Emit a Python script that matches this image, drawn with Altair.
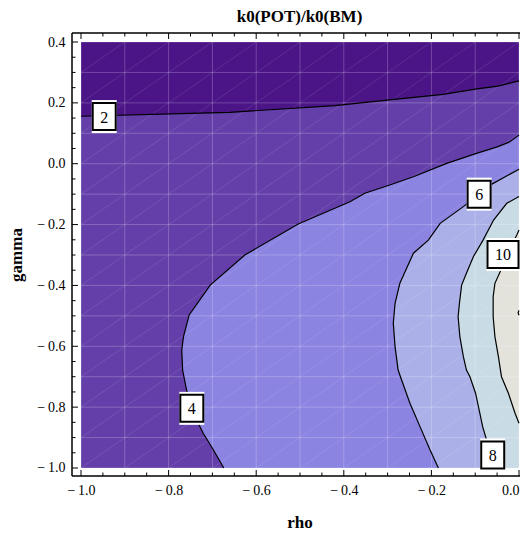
import altair as alt
import pandas as pd

# ---------------- data ----------------
band_colors = ["#4b1487", "#643fa9", "#8b84e1", "#abb1e8", "#c9dce6", "#e3e3dc"]  # <2, 2-4, 4-6, 6-8, 8-10, >10

rho_range = [-1.0, 0.0]
gamma_range = [-1.0, 0.4]

# contour level 2 (region above it is the darkest band)
c2_rho = [-1.0, -0.728, -0.66, -0.42, -0.301, -0.173, -0.096, -0.048, 0.0]
c2_gamma = [0.156, 0.166, 0.169, 0.191, 0.209, 0.228, 0.246, 0.255, 0.272]

# contour level 4
c4_rho = [0.0, -0.021, -0.048, -0.097, -0.165, -0.241, -0.295, -0.352, -0.386, -0.504,
          -0.626, -0.705, -0.753, -0.766, -0.770, -0.768, -0.759, -0.736, -0.721, -0.702, -0.674]
c4_gamma = [0.094, 0.072, 0.056, 0.034, 0.001, -0.043, -0.070, -0.097, -0.125, -0.198,
            -0.300, -0.399, -0.497, -0.568, -0.612, -0.678, -0.744, -0.842, -0.886, -0.930, -1.0]

# contour level 6
c6_rho = [0.0, -0.062, -0.127, -0.180, -0.207, -0.241, -0.272, -0.283, -0.287, -0.283,
          -0.276, -0.268, -0.249, -0.226, -0.203, -0.184]
c6_gamma = [-0.018, -0.067, -0.141, -0.196, -0.251, -0.294, -0.393, -0.459, -0.524, -0.601,
            -0.678, -0.711, -0.787, -0.864, -0.941, -1.0]

# contour level 8
c8_rho = [0.0, -0.028, -0.058, -0.082, -0.104, -0.120, -0.131, -0.136, -0.139, -0.135,
          -0.127, -0.120, -0.112, -0.099, -0.091, -0.083, -0.074, -0.068, -0.064]
c8_gamma = [-0.108, -0.130, -0.185, -0.251, -0.305, -0.360, -0.399, -0.459, -0.503, -0.568,
            -0.634, -0.678, -0.700, -0.755, -0.809, -0.864, -0.908, -0.955, -1.0]

# contour level 10
c10_rho = [0.0, -0.005, -0.025, -0.043, -0.055, -0.059, -0.059, -0.055, -0.047, -0.040,
           -0.024, -0.009, 0.0]
c10_gamma = [-0.218, -0.234, -0.290, -0.355, -0.393, -0.437, -0.503, -0.568, -0.634, -0.700,
             -0.755, -0.820, -0.853]

# tiny contour touching the right edge
c12_rho = [0.0, -0.002, 0.0]
c12_gamma = [-0.482, -0.490, -0.498]

# contour labels
label_text = ["2", "4", "6", "8", "10"]
label_rho = [-0.947, -0.747, -0.091, -0.060, -0.0365]
label_gamma = [0.155, -0.804, -0.100, -0.957, -0.298]

# ticks / grid
x_major = [-1.0, -0.8, -0.6, -0.4, -0.2, 0.0]
x_minor = [-0.95, -0.9, -0.85, -0.75, -0.7, -0.65, -0.55, -0.5, -0.45, -0.35, -0.3, -0.25,
           -0.15, -0.1, -0.05]
y_major = [-1.0, -0.8, -0.6, -0.4, -0.2, 0.0, 0.2, 0.4]
y_minor = [-0.95, -0.9, -0.85, -0.75, -0.7, -0.65, -0.55, -0.5, -0.45, -0.35, -0.3, -0.25,
           -0.15, -0.1, -0.05, 0.05, 0.1, 0.15, 0.25, 0.3, 0.35]
grid_rho = [-1.0, -0.9, -0.8, -0.7, -0.6, -0.5, -0.4, -0.3, -0.2, -0.1, 0.0]
grid_gamma = [-1.0, -0.9, -0.8, -0.7, -0.6, -0.5, -0.4, -0.3, -0.2, -0.1, 0.0, 0.1, 0.2, 0.3, 0.4]
diag_offsets = [-0.9, -0.8, -0.7, -0.6, -0.5, -0.4, -0.3, -0.2, -0.1, 0.0, 0.1, 0.2, 0.3, 0.4,
                0.5, 0.6, 0.7, 0.8, 0.9, 1.0, 1.1, 1.2, 1.3]

chart_title = "k0(POT)/k0(BM)"

# ---------------- layout ----------------
W_VIEW = 448          # visible part of the plot (the frame's right side is cropped as in the reference)
W, H = 455, 443       # full frame size used by the scales
FONT = "Liberation Serif"
xs = alt.Scale(domain=[-1.02055, 0.01826], range=[0, W], nice=False, zero=False)
ys = alt.Scale(domain=[-1.0263, 0.4296], nice=False, zero=False)
minus_expr = "replace(datum.label, '\u2212', '\u2212\u2009')"

x_axis = alt.Axis(values=x_major, format=".1f", labelExpr=minus_expr, title="rho",
                  labelAlign=alt.ExprRef(expr="datum.value === 0 ? 'right' : 'center'"),
                  ticks=False, domain=False, grid=False, labelPadding=7, titlePadding=17)
y_axis = alt.Axis(values=y_major, format=".1f", labelExpr=minus_expr, title="gamma",
                  ticks=False, domain=False, grid=False, labelPadding=7, titlePadding=11)


def X(f):
    return alt.X(f, scale=xs, axis=x_axis)


def Y(f):
    return alt.Y(f, scale=ys, axis=y_axis)


def line_df(r, g):
    return pd.DataFrame({"rho": r, "gamma": g, "i": list(range(len(r))),
                         "edge_x": rho_range[1], "edge_y": gamma_range[1]})


bg = alt.Chart(pd.DataFrame({"x": [rho_range[0]], "x2": [rho_range[1]],
                             "y": [gamma_range[0]], "y2": [gamma_range[1]]})).mark_rect(
    color=band_colors[1]).encode(x=X("x:Q"), x2="x2:Q", y=Y("y:Q"), y2="y2:Q")

top_area = alt.Chart(line_df(c2_rho, c2_gamma)).mark_area(
    color=band_colors[0], opacity=1).encode(
    x=X("rho:Q"), y=Y("gamma:Q"), y2="edge_y:Q")


def h_area(r, g, color):
    return alt.Chart(line_df(r, g)).mark_area(orient="horizontal", color=color, opacity=1).encode(
        y=Y("gamma:Q"), x=X("rho:Q"), x2="edge_x:Q")


a4 = h_area(c4_rho, c4_gamma, band_colors[2])
a6 = h_area(c6_rho, c6_gamma, band_colors[3])
a8 = h_area(c8_rho, c8_gamma, band_colors[4])
a10 = h_area(c10_rho, c10_gamma, band_colors[5])

# grid lines
vgrid = alt.Chart(pd.DataFrame({"rho": grid_rho, "g0": gamma_range[0], "g1": gamma_range[1]})).mark_rule(
    color="white", opacity=0.22, strokeWidth=1).encode(x=X("rho:Q"), y=Y("g0:Q"), y2="g1:Q")
hgrid = alt.Chart(pd.DataFrame({"gamma": grid_gamma, "r0": rho_range[0], "r1": rho_range[1]})).mark_rule(
    color="white", opacity=0.22, strokeWidth=1).encode(y=Y("gamma:Q"), x=X("r0:Q"), x2="r1:Q")

drows = []
for c in diag_offsets:
    r0 = max(rho_range[0], gamma_range[0] - c)
    r1 = min(rho_range[1], gamma_range[1] - c)
    drows.append({"r0": r0, "r1": r1, "g0": r0 + c, "g1": r1 + c})
diag = alt.Chart(pd.DataFrame(drows)).mark_rule(color="white", opacity=0.14, strokeWidth=0.8).encode(
    x=X("r0:Q"), x2="r1:Q", y=Y("g0:Q"), y2="g1:Q")

# contour lines
cl = []
for name, r, g in [("2", c2_rho, c2_gamma), ("4", c4_rho, c4_gamma), ("6", c6_rho, c6_gamma),
                   ("8", c8_rho, c8_gamma), ("10", c10_rho, c10_gamma), ("12", c12_rho, c12_gamma)]:
    d = line_df(r, g)
    d["level"] = name
    cl.append(d)
lines = alt.Chart(pd.concat(cl)).mark_line(color="black", strokeWidth=1.2).encode(
    x=X("rho:Q"), y=Y("gamma:Q"), detail="level:N", order="i:Q")

# frame and ticks
one = pd.DataFrame({"a": [0]})
frame_left = alt.Chart(one).mark_rule(color="black", strokeWidth=1.5).encode(
    x=alt.value(0), y=alt.value(0), y2=alt.value(H))
frame_top = alt.Chart(one).mark_rule(color="black", strokeWidth=1.5).encode(
    x=alt.value(0), x2=alt.value(W), y=alt.value(0))
frame_bottom = alt.Chart(one).mark_rule(color="black", strokeWidth=1.5).encode(
    x=alt.value(0), x2=alt.value(W), y=alt.value(H))

tick_layers = []
for vals, ln in [(x_major, 6), (x_minor, 3.5)]:
    d = pd.DataFrame({"v": vals})
    tick_layers.append(alt.Chart(d).mark_rule(color="black", strokeWidth=1).encode(
        x=X("v:Q"), y=alt.value(H), y2=alt.value(H - ln)))
    tick_layers.append(alt.Chart(d).mark_rule(color="black", strokeWidth=1).encode(
        x=X("v:Q"), y=alt.value(0), y2=alt.value(ln)))
for vals, ln in [(y_major, 6), (y_minor, 3.5)]:
    d = pd.DataFrame({"v": vals})
    tick_layers.append(alt.Chart(d).mark_rule(color="black", strokeWidth=1).encode(
        y=Y("v:Q"), x=alt.value(0), x2=alt.value(ln)))
    tick_layers.append(alt.Chart(d).mark_rule(color="black", strokeWidth=1).encode(
        y=Y("v:Q"), x=alt.value(W), x2=alt.value(W - ln)))

# contour labels
lab = pd.DataFrame({"rho": label_rho, "gamma": label_gamma, "text": label_text})
lab1 = lab[lab["text"].str.len() == 1]
lab2 = lab[lab["text"].str.len() == 2]


def rect_path(w, h):
    r = h / w
    return f"M-1,-{r:.4f}L1,-{r:.4f}L1,{r:.4f}L-1,{r:.4f}Z"


def box_layers(d, w, h):
    halo = alt.Chart(d).mark_point(shape=rect_path(w + 2, h + 6), size=(w + 2) ** 2, filled=True,
                                   fill="white", opacity=1, strokeWidth=0).encode(
        x=X("rho:Q"), y=Y("gamma:Q"))
    box = alt.Chart(d).mark_point(shape=rect_path(w, h), size=w ** 2, filled=True, fill="white",
                                  stroke="black", strokeWidth=2, opacity=1).encode(
        x=X("rho:Q"), y=Y("gamma:Q"))
    return [halo, box]


texts = alt.Chart(lab).mark_text(font=FONT, fontSize=16, color="black", baseline="middle",
                                 align="center", dy=1).encode(
    x=X("rho:Q"), y=Y("gamma:Q"), text="text:N")

title_mark = alt.Chart(pd.DataFrame({"t": [chart_title]})).mark_text(
    font=FONT, fontSize=17, fontWeight="bold", color="black", baseline="alphabetic",
    align="center").encode(x=alt.value(W / 2), y=alt.value(-11), text="t:N")

layers = [bg, top_area, a4, a6, a8, a10, vgrid, hgrid, diag, lines,
          frame_left, frame_top, frame_bottom] + tick_layers + box_layers(lab1, 23, 27) + \
    box_layers(lab2, 31, 27) + [texts, title_mark]

chart = alt.layer(*layers).properties(
    width=W_VIEW, height=H,
    autosize=alt.AutoSizeParams(type="none"),
    padding={"left": 64, "top": 25, "right": 0, "bottom": 60},
).configure_view(stroke=None).configure_axis(
    labelFont=FONT, labelFontSize=14, labelColor="black",
    titleFont=FONT, titleFontSize=17, titleFontWeight="bold", titleColor="black",
    tickSize=0,
)

chart.save("out.html", embed_options={"renderer": "svg", "actions": False})
